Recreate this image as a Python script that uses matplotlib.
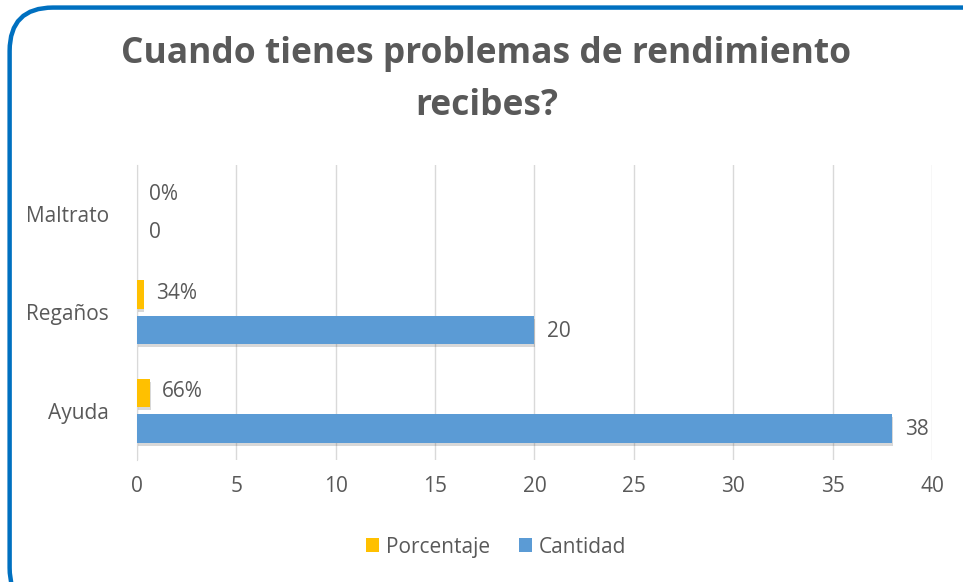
"""Horizontal grouped bar chart: Cuando tienes problemas de rendimiento recibes?"""
import matplotlib.pyplot as plt
import matplotlib.patheffects as pe
from matplotlib.patches import FancyBboxPatch, Patch
import numpy as np

categories = ["Ayuda", "Regaños", "Maltrato"]
cantidad = [38, 20, 0]
porcentaje = [0.66, 0.34, 0.0]
x_ticks = [0, 5, 10, 15, 20, 25, 30, 35, 40]

BLUE = "#5B9BD5"
YELLOW = "#FFC000"
TEXT = "#595959"
FS = 15

plt.rcParams["font.family"] = ["Open Sans", "DejaVu Sans"]

fig = plt.figure(figsize=(9.63, 5.82), dpi=100)
ax = fig.add_axes([0.142, 0.210, 0.826, 0.507])

# rounded blue frame around the whole chart
frame = FancyBboxPatch((0.010, -0.05), 1.05, 1.037,
                       boxstyle="round,pad=0,rounding_size=0.045",
                       transform=fig.transFigure, facecolor="none",
                       edgecolor="#0070C0", linewidth=3.2, zorder=0,
                       mutation_aspect=963 / 582)
fig.patches.append(frame)

y = np.arange(len(categories))
h = 0.29
off = 0.18
shadow = [pe.SimplePatchShadow(offset=(0.6, -2.2), alpha=0.2, shadow_rgbFace="#404040"),
          pe.Normal()]

bars_p = ax.barh(y + off, porcentaje, height=h, color=YELLOW,
                 zorder=3, path_effects=shadow)
bars_c = ax.barh(y - off, cantidad, height=h, color=BLUE,
                 zorder=3, path_effects=shadow)

for b, v in zip(bars_p, porcentaje):
    ax.annotate(f"{v:.0%}", (b.get_width(), b.get_y() + b.get_height() / 2),
                xytext=(9, 1), textcoords="offset points", va="center",
                ha="left", fontsize=FS, color=TEXT)
for b, v in zip(bars_c, cantidad):
    ax.annotate(f"{v}", (b.get_width(), b.get_y() + b.get_height() / 2),
                xytext=(9, -1), textcoords="offset points", va="center",
                ha="left", fontsize=FS, color=TEXT)

ax.set_xlim(0, 40)
ax.set_ylim(-0.5, 2.5)
ax.set_xticks(x_ticks)
ax.set_yticks(y)
ax.set_yticklabels(categories)
ax.tick_params(axis="both", length=0, labelsize=FS, colors=TEXT)
ax.tick_params(axis="x", pad=12)
ax.tick_params(axis="y", pad=20)
ax.grid(axis="x", color="#D9D9D9", linewidth=1, zorder=0)
for side in ["top", "right", "bottom"]:
    ax.spines[side].set_visible(False)
ax.spines["left"].set_color("#D9D9D9")

fig.text(0.505, 0.862, "Cuando tienes problemas de rendimiento\nrecibes?",
         ha="center", va="center", fontsize=25.5, fontweight="bold",
         color=TEXT, linespacing=1.58)

handles = [Patch(facecolor=YELLOW, label="Porcentaje"),
           Patch(facecolor=BLUE, label="Cantidad")]
fig.legend(handles=handles, loc="center", bbox_to_anchor=(0.515, 0.06),
           ncol=2, frameon=False, fontsize=FS, handlelength=0.65,
           handleheight=0.65, handletextpad=0.3, columnspacing=1.4,
           labelcolor=TEXT)

fig.savefig("out.png", dpi=100)
plt.close(fig)
